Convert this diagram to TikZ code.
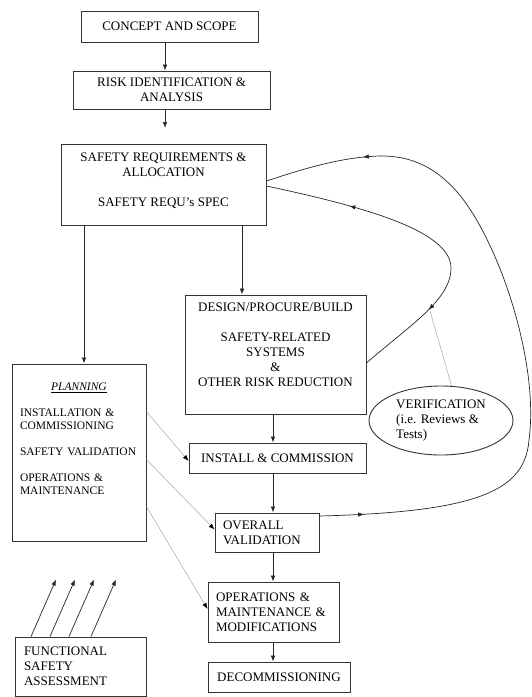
\documentclass[tikz,border=0pt]{standalone}
\usepackage{fontspec}
\setmainfont{Liberation Serif}
\usetikzlibrary{arrows.meta,decorations.markings,shapes.geometric}
\tikzset{
BOX/.style ={draw=black!80,line width=0.9pt},
LBOX/.style ={BOX,align=left,inner xsep=8pt,text width=#1},
LINE/.style ={draw=black!85,line width=0.7pt},
ARROW/.style ={LINE,-{Latex[length=6pt,width=4.5pt]}},
THIN/.style ={draw=black!35,line width=0.5pt,-{Latex[length=6pt,width=4.5pt,color=black]}},
VARC/.style={decoration={markings,
	mark=at position .24 with {\arrowreversed{Latex[length=6pt,width=4.5pt]}},
	mark=at position .75 with {\arrow{Latex[length=6pt,width=4.5pt]}}},postaction={decorate}},
VALARC/.style={decoration={markings,
	mark=at position .063 with {\arrow{Latex[length=6pt,width=4.5pt]}},
	mark=at position .86 with {\arrow{Latex[length=6pt,width=4.5pt]}}},postaction={decorate}},
}
\begin{document}
\begin{tikzpicture}[x=1pt,y=-1pt,font=\fontsize{13}{15}\selectfont]
	\useasboundingbox (0,0) rectangle (532,697);
	% main chain
	\node[BOX,minimum width=177pt,minimum height=31pt] (concept) at (169.5,26.5) {CONCEPT AND SCOPE};
	\node[BOX,minimum width=197pt,minimum height=38pt,align=center] (risk) at (171.5,90) {RISK IDENTIFICATION \&\\ANALYSIS};
	\node[BOX,minimum width=205pt,minimum height=81pt,
		label={[anchor=north,yshift=-9pt,align=center,inner sep=0pt]north:{SAFETY REQUIREMENTS \&\\ALLOCATION\\[15pt]SAFETY REQU’s SPEC}}] (sra) at (163.5,184.5) {};
	\node[BOX,minimum width=181pt,minimum height=119pt,
		label={[anchor=north,yshift=-8.5pt,align=center,inner sep=0pt]north:{DESIGN/PROCURE/BUILD\\[15pt]SAFETY-RELATED\\SYSTEMS\\\&\\OTHER RISK REDUCTION}}] (design) at (275.5,354.5) {};
	\node[BOX,minimum width=177pt,minimum height=30pt] (install) at (277.5,458) {INSTALL \& COMMISSION};
	\node[LBOX=88pt,minimum height=39pt] (overall) at (267,532.5) {OVERALL\\VALIDATION};
	\node[LBOX=115pt,minimum height=60pt] (ops) at (273.5,612) {OPERATIONS \&\\MAINTENANCE \&\\MODIFICATIONS};
	\node[BOX,minimum width=142pt,minimum height=30pt] (decom) at (279,677) {DECOMMISSIONING};
	% planning and assessment
	\node[BOX,minimum width=134pt,minimum height=177pt,
		label={[anchor=north,yshift=-19pt,text width=118pt,align=left,inner sep=0pt,font=\fontsize{11.5}{13}\selectfont]north:{\makebox[118pt]{\underline{\textit{PLANNING}}}\\[13pt]INSTALLATION \&\\COMMISSIONING\\[13pt]SAFETY VALIDATION\\[13pt]OPERATIONS \&\\MAINTENANCE}}] (plan) at (79,452.5) {};
	\node[LBOX=113pt,inner xsep=9pt,minimum height=59pt] (fsa) at (80.5,666.5) {FUNCTIONAL\\SAFETY\\ASSESSMENT};
	\node[BOX,ellipse,minimum width=144pt,minimum height=69pt,inner sep=0pt,align=left] (verif) at (441,420.5) {VERIFICATION\\(i.e. Reviews \&\\Tests)};
	\coordinate (gap) at (165,128);
	\coordinate (vtip) at (430,311);
	% straight arrows
	\draw[ARROW] (concept.south -| 165,0) -- (risk.north -| 165,0);
	\draw[ARROW] (risk.south -| 165,0) -- (gap);
	\draw[ARROW] (sra.south -| 84,0) -- (plan.north -| 84,0);
	\draw[ARROW] (sra.south -| 242,0) -- (design.north -| 242,0);
	\draw[ARROW] (design.south -| 273,0) -- (install.north -| 273,0);
	\draw[ARROW] (install.south -| 273,0) -- (overall.north -| 273,0);
	\draw[ARROW] (overall.south -| 273,0) -- (ops.north -| 273,0);
	\draw[ARROW] (ops.south -| 273,0) -- (decom.north -| 273,0);
	\foreach \x in {31,50,69,91} %assessment
		\draw[ARROW] (fsa.north -| \x,0) -- ++(25,-57);
	% planning links
	\draw[THIN] ([yshift=-48pt]plan.north east) -- ([yshift=-3pt]install.west);
	\draw[THIN] ([yshift=-96pt]plan.north east) -- ([yshift=3pt]overall.west);
	\draw[THIN] ([yshift=-143pt]plan.north east) -- ([yshift=3pt]ops.west);
	% loops back to requirements
	\path[LINE,VARC] (design.east |- 0,363) .. controls (410,325) and (451,300) .. (451,268)
		.. controls (451,230) and (360,206) .. (sra.east |- 0,186);
	\path[LINE,VALARC] (overall.east |- 0,516) .. controls (480,512) and (525,490) .. (529,440)
		.. controls (537,380) and (515,300) .. (492,250)
		.. controls (470,202) and (440,155) .. (380,156)
		.. controls (340,157) and (300,170) .. (sra.east |- 0,181);
	\draw[draw=black!35,line width=0.5pt] (verif.73) -- (vtip);
\end{tikzpicture}
\end{document}
